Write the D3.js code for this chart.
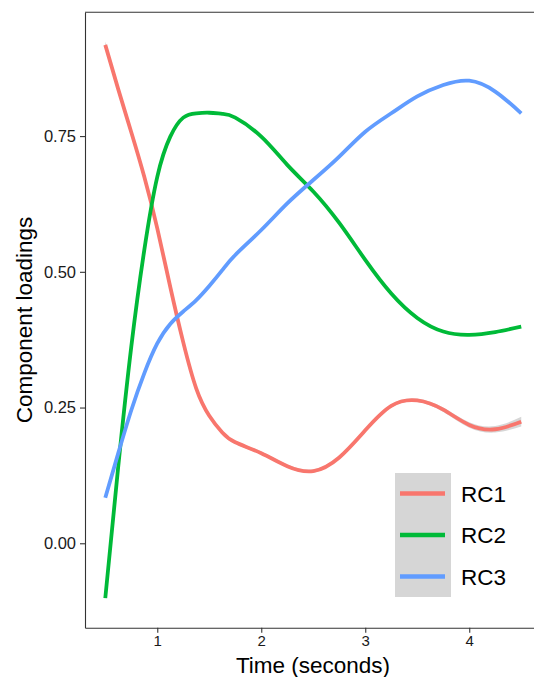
<!DOCTYPE html>
<html>
<head>
<meta charset="utf-8">
<style>
    body { margin: 0; background: #fff; }
    text { font-family: "Liberation Sans", Arial, sans-serif; fill: #000; }
    .axis line, .axis path { stroke: #333; stroke-width: 1.1px; }
    .axis text { fill: #1a1a1a; }
</style>
</head>
<body>
<script src="https://cdn.jsdelivr.net/npm/d3@7"></script>
<script>

var width = 534, height = 677;
var margin = {top: 12.3, right: -7, bottom: 49.3, left: 85};

// smoothed loadings
var time = [0.5, 0.625, 0.75, 0.875, 1, 1.125, 1.25, 1.375, 1.5, 1.625, 1.75, 2, 2.25, 2.5, 2.75, 3, 3.25, 3.5, 3.75, 4, 4.25, 4.5];
var rc1 = [0.918, 0.836, 0.757, 0.675, 0.58, 0.472, 0.37, 0.285, 0.235, 0.204, 0.186, 0.166, 0.142, 0.133, 0.158, 0.208, 0.253, 0.263, 0.246, 0.218, 0.21, 0.224];
var rc2 = [-0.101, 0.142, 0.362, 0.54, 0.675, 0.749, 0.784, 0.792, 0.793, 0.791, 0.784, 0.749, 0.697, 0.648, 0.59, 0.522, 0.46, 0.415, 0.39, 0.384, 0.389, 0.399];
var rc3 = [0.084, 0.166, 0.245, 0.313, 0.368, 0.404, 0.427, 0.448, 0.474, 0.503, 0.531, 0.577, 0.626, 0.669, 0.712, 0.758, 0.792, 0.823, 0.844, 0.852, 0.832, 0.792];
// standard error band (only shows where it is wider than the line)
var seRC1 = [0.006, 0.005, 0.004, 0.004, 0.004, 0.004, 0.004, 0.003, 0.003, 0.003, 0.003, 0.003, 0.003, 0.003, 0.003, 0.003, 0.003, 0.003, 0.004, 0.005, 0.006, 0.009];

var seriesNames = ["RC1", "RC2", "RC3"];
var seriesColors = ["#F8766D", "#00BA38", "#619CFF"];
var xTicks = [1, 2, 3, 4];
var yTicks = [0, 0.25, 0.5, 0.75];

var svg = d3.select("body").append("svg")
    .attr("width", width)
    .attr("height", height);

var x = d3.scaleLinear()
    .domain([0.305, 4.69])
    .range([margin.left, width - margin.right]);
var y = d3.scaleLinear()
    .domain([-0.1555, 0.978])
    .range([height - margin.bottom, margin.top]);

var series = [rc1, rc2, rc3].map(function(vals, i) {
    return {
        name: seriesNames[i],
        color: seriesColors[i],
        values: time.map(function(t, j) { return {t: t, v: vals[j]}; })
    };
});

var plot = svg.append("g");

// ribbon for RC1
var band = d3.area()
    .curve(d3.curveNatural)
    .x(function(d, j) { return x(time[j]); })
    .y0(function(d, j) { return y(rc1[j] - seRC1[j]); })
    .y1(function(d, j) { return y(rc1[j] + seRC1[j]); });
plot.append("path")
    .datum(rc1)
    .attr("d", band)
    .attr("fill", "#999")
    .attr("opacity", 0.4);

var line = d3.line()
    .curve(d3.curveNatural)
    .x(function(d) { return x(d.t); })
    .y(function(d) { return y(d.v); });

plot.selectAll(".smooth")
    .data(series)
    .enter().append("path")
    .attr("class", "smooth")
    .attr("d", function(d) { return line(d.values); })
    .attr("fill", "none")
    .attr("stroke", function(d) { return d.color; })
    .attr("stroke-width", 3.8);

// axes
var xAxis = svg.append("g")
    .attr("class", "axis")
    .attr("transform", "translate(0," + y.range()[0] + ")")
    .call(d3.axisBottom(x).tickValues(xTicks).tickFormat(d3.format("d")).tickSizeInner(5).tickSizeOuter(0).tickPadding(3));
xAxis.selectAll("text").style("font-size", "15px");

var yAxis = svg.append("g")
    .attr("class", "axis")
    .attr("transform", "translate(" + margin.left + ",0)")
    .call(d3.axisLeft(y).tickValues(yTicks).tickFormat(d3.format(".2f")).tickSizeInner(5).tickSizeOuter(0).tickPadding(4));
yAxis.selectAll("text").style("font-size", "16.5px");

// top border of the panel
svg.append("line")
    .attr("x1", margin.left).attr("x2", width)
    .attr("y1", margin.top).attr("y2", margin.top)
    .attr("stroke", "#333").attr("stroke-width", 1.1);

// axis titles
svg.append("text")
    .attr("x", (margin.left + width - margin.right) / 2)
    .attr("y", 673)
    .attr("text-anchor", "middle")
    .style("font-size", "22.5px")
    .text("Time (seconds)");

svg.append("text")
    .attr("transform", "translate(32," + (margin.top + y.range()[0]) / 2 + ") rotate(-90)")
    .attr("text-anchor", "middle")
    .style("font-size", "22.5px")
    .text("Component loadings");

// legend
var legend = svg.append("g").attr("transform", "translate(395,473)");
legend.append("rect")
    .attr("width", 56)
    .attr("height", 124)
    .attr("fill", "#d6d6d6");
var keys = legend.selectAll(".key")
    .data(series)
    .enter().append("g")
    .attr("class", "key")
    .attr("transform", function(d, i) { return "translate(0," + (20.5 + i * 41.5) + ")"; });
keys.append("line")
    .attr("x1", 5).attr("x2", 50)
    .attr("stroke", function(d) { return d.color; })
    .attr("stroke-width", 4.5);
keys.append("text")
    .attr("x", 66)
    .attr("dy", "0.36em")
    .style("font-size", "22.5px")
    .text(function(d) { return d.name; });

</script>
</body>
</html>
